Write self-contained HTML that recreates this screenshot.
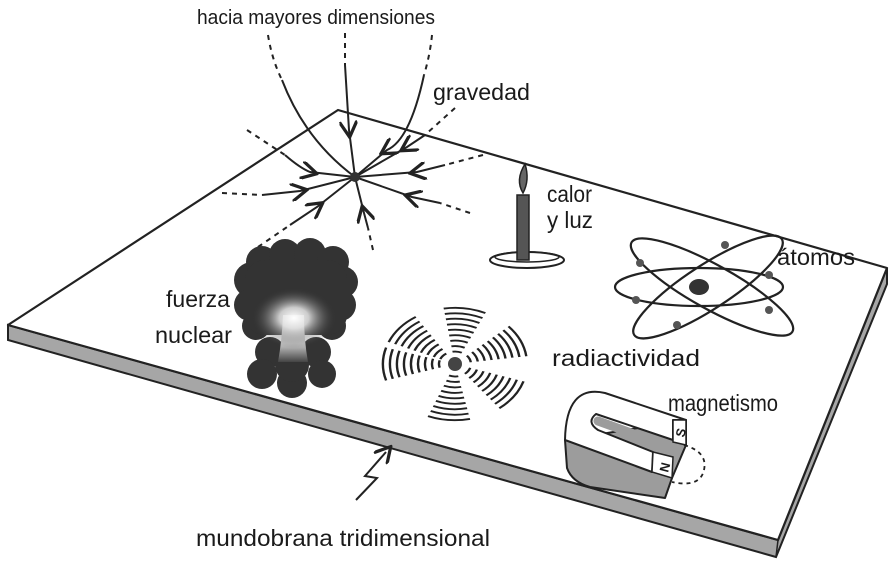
<!DOCTYPE html>
<html><head><meta charset="utf-8"><style>
html,body{margin:0;padding:0;background:#fff;}
svg{display:block;}
text{font-family:"Liberation Sans",sans-serif;font-size:23px;fill:#1a1a1a;}
</style></head><body>
<svg width="896" height="585" viewBox="0 0 896 585" xmlns="http://www.w3.org/2000/svg">
<defs>
<radialGradient id="glow" cx="0.5" cy="0.5" r="0.5">
<stop offset="0" stop-color="#fff" stop-opacity="1"/><stop offset="0.35" stop-color="#ddd" stop-opacity="0.9"/><stop offset="1" stop-color="#333" stop-opacity="0"/>
</radialGradient>
<linearGradient id="stem" x1="0" y1="0" x2="0" y2="1">
<stop offset="0" stop-color="#fff"/><stop offset="0.6" stop-color="#ccc"/><stop offset="1" stop-color="#444"/>
</linearGradient>
<marker id="ar" viewBox="0 0 10 10" refX="5" refY="5" markerWidth="9" markerHeight="9" orient="auto">
<path d="M0,0 L9,5 L0,10" fill="none" stroke="#222" stroke-width="1.8"/>
</marker>
</defs>
<!-- plate -->
<polygon points="8,325 778,540 887,268 887,284 776,557 8,340" fill="#a6a6a6" stroke="#222" stroke-width="2"/>
<polygon points="338,110 887,268 778,540 8,325" fill="#fff" stroke="#222" stroke-width="2.2" stroke-linejoin="round"/>
<line x1="778" y1="540" x2="776" y2="557" stroke="#222" stroke-width="1.5"/>

<!-- gravity -->
<g fill="none" stroke="#222" stroke-width="2">
<g stroke-dasharray="5,5">
<path d="M268,35 Q272,60 282,80"/>
<path d="M345,33 L345,65"/>
<path d="M432,35 Q430,55 424,75"/>
<path d="M247,130 L285,155"/>
<path d="M455,108 L425,135"/>
<path d="M483,155 L445,165"/>
<path d="M470,213 L440,203"/>
<path d="M222,193 L262,195"/>
<path d="M258,247 L290,225"/>
<path d="M373,250 L368,228"/>
</g>
<path d="M282,80 Q305,140 355,177" marker-mid="url(#ar)"/>
<path d="M345,65 L349,130 L355,177"  marker-mid="url(#ar)"/>
<path d="M424,75 Q410,140 387,150 L355,177" marker-mid="url(#ar)"/>
<path d="M285,155 Q300,168 310,172 L355,177" marker-mid="url(#ar)"/>
<path d="M425,135 L407,147 L355,177" marker-mid="url(#ar)"/>
<path d="M445,165 L417,172 L355,177" marker-mid="url(#ar)"/>
<path d="M440,203 L412,197 L355,177" marker-mid="url(#ar)"/>
<path d="M262,195 L300,191 L355,177" marker-mid="url(#ar)"/>
<path d="M290,225 L317,207 L355,177" marker-mid="url(#ar)"/>
<path d="M368,228 L364,213 L355,177" marker-mid="url(#ar)"/>
</g>
<circle cx="355" cy="177" r="5" fill="#333"/>

<!-- candle -->
<ellipse cx="527" cy="260" rx="37" ry="8" fill="#fff" stroke="#222" stroke-width="2"/>
<ellipse cx="527" cy="257" rx="32" ry="5" fill="none" stroke="#222" stroke-width="1.5"/>
<rect x="517" y="195" width="12" height="65" fill="#555" stroke="#222" stroke-width="1.5"/>
<path d="M523,193 Q515,180 525,164 Q530,180 523,193 Z" fill="#666" stroke="#222" stroke-width="1.5"/>

<!-- atom -->
<g fill="none" stroke="#222" stroke-width="2.2">
<ellipse cx="699" cy="287" rx="84" ry="19"/>
<ellipse cx="712" cy="287" rx="92" ry="22" transform="rotate(29 712 287)"/>
<ellipse cx="708" cy="287" rx="88" ry="22" transform="rotate(-33 708 287)"/>
</g>
<ellipse cx="699" cy="287" rx="10" ry="8" fill="#333"/>
<g fill="#555"><circle cx="640" cy="263" r="4"/><circle cx="725" cy="245" r="4"/><circle cx="769" cy="275" r="4"/><circle cx="636" cy="300" r="4"/><circle cx="769" cy="310" r="4"/><circle cx="677" cy="325" r="4"/></g>

<!-- mushroom cloud -->
<g fill="#333">
<circle cx="270" cy="352" r="15"/><circle cx="316" cy="352" r="15"/><circle cx="262" cy="374" r="15"/><circle cx="292" cy="383" r="15"/><circle cx="322" cy="374" r="14"/><circle cx="292" cy="365" r="17"/>
<circle cx="252" cy="280" r="18"/><circle cx="262" cy="262" r="16"/><circle cx="285" cy="255" r="16"/><circle cx="310" cy="254" r="16"/><circle cx="333" cy="262" r="16"/><circle cx="342" cy="282" r="16"/><circle cx="340" cy="305" r="16"/><circle cx="332" cy="326" r="14"/><circle cx="250" cy="305" r="16"/><circle cx="256" cy="326" r="14"/>
<rect x="245" y="260" width="102" height="75" rx="20"/>
</g>
<path d="M283,315 Q282,340 278,362 L308,362 Q304,340 304,315 Z" fill="url(#stem)"/>
<ellipse cx="294" cy="318" rx="42" ry="30" fill="url(#glow)"/>

<!-- radiation -->
<g fill="none" stroke="#222" stroke-width="2.4" transform="translate(455,364) scale(1,0.78)" id="rad">
</g>
<circle cx="455" cy="364" r="7" fill="#444"/>

<!-- magnet -->
<path d="M565,440 L567,468 Q572,482 590,487 L665,498 L672,478 L686,445 L686,420 Z" fill="#9c9c9c" stroke="#222" stroke-width="2" stroke-linejoin="round"/>
<path d="M686,420 L605,393 Q566,384 565,440 L652,472 L653,452 L598,430 Q586,422 596,414 L673,440 L673,420 Z" fill="#fff" stroke="#222" stroke-width="2" stroke-linejoin="round"/>
<path d="M598,421 L670,447" stroke="#9c9c9c" stroke-width="9" stroke-linecap="round"/>
<polygon points="673,420 686,420 686,445 673,442" fill="#fff" stroke="#222" stroke-width="1.5"/>
<polygon points="653,452 673,457 672,478 652,472" fill="#fff" stroke="#222" stroke-width="1.5"/>
<text x="0" y="0" style="font-size:13px;font-weight:bold" transform="translate(684,438) rotate(-75)">S</text>
<text x="0" y="0" style="font-size:13px;font-weight:bold" transform="translate(668,473) rotate(-75)">N</text>
<path d="M684,445 Q708,452 704,470 Q700,488 672,482" fill="none" stroke="#222" stroke-width="1.8" stroke-dasharray="4,4"/>

<!-- zigzag -->
<path d="M356,500 L377,478 L365,476 L386,452" fill="none" stroke="#222" stroke-width="2" marker-end="url(#ar)"/>

<!-- labels -->
<text x="197" y="24" style="font-size:20px" textLength="238" lengthAdjust="spacingAndGlyphs">hacia mayores dimensiones</text>
<text x="433" y="100" textLength="97" lengthAdjust="spacingAndGlyphs">gravedad</text>
<text x="547" y="202" textLength="45" lengthAdjust="spacingAndGlyphs">calor</text>
<text x="547" y="228" textLength="46" lengthAdjust="spacingAndGlyphs">y luz</text>
<text x="777" y="265" textLength="78" lengthAdjust="spacingAndGlyphs">átomos</text>
<text x="166" y="307" textLength="64" lengthAdjust="spacingAndGlyphs">fuerza</text>
<text x="155" y="343" textLength="77" lengthAdjust="spacingAndGlyphs">nuclear</text>
<text x="552" y="366" textLength="148" lengthAdjust="spacingAndGlyphs">radiactividad</text>
<text x="668" y="411" textLength="110" lengthAdjust="spacingAndGlyphs">magnetismo</text>
<text x="196" y="546" textLength="294" lengthAdjust="spacingAndGlyphs">mundobrana tridimensional</text>
</svg>
<script>
(function(){var g=document.getElementById('rad');var ns='http://www.w3.org/2000/svg';
var secs=[-82,-25,35,95,180,-140];
secs.forEach(function(c){for(var r=16;r<=78;r+=7){var a1=(c-17)*Math.PI/180,a2=(c+17)*Math.PI/180;
var p=document.createElementNS(ns,'path');
p.setAttribute('d','M'+(r*Math.cos(a1)).toFixed(1)+','+(r*Math.sin(a1)).toFixed(1)+' A'+r+','+r+' 0 0 1 '+(r*Math.cos(a2)).toFixed(1)+','+(r*Math.sin(a2)).toFixed(1));
g.appendChild(p);}});})();
</script>
</body></html>
